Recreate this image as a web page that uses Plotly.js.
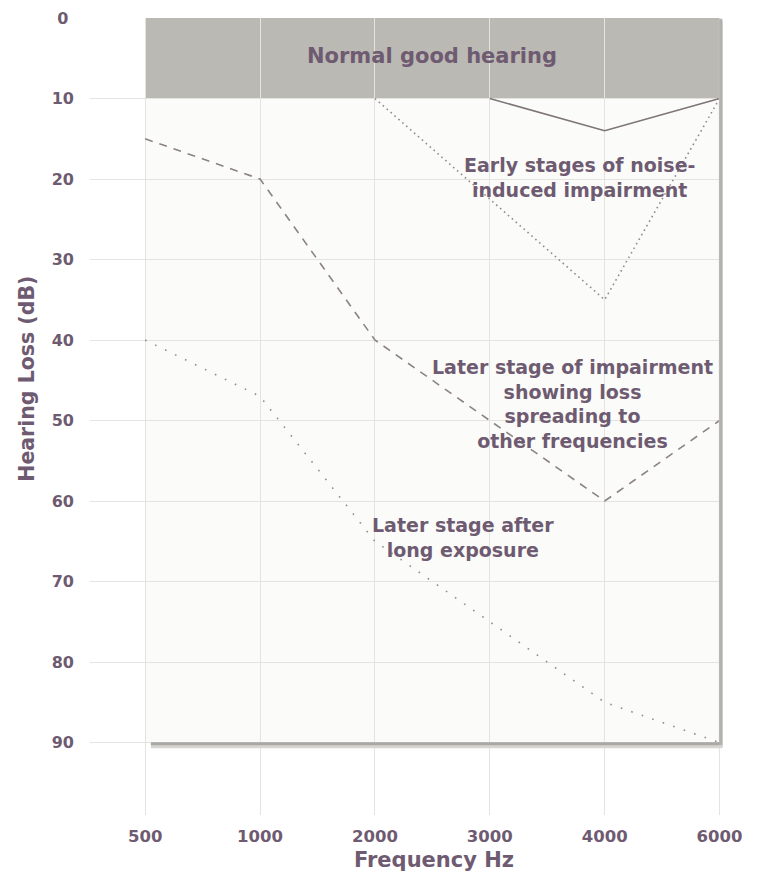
<!DOCTYPE html>
<html>
<head>
<meta charset="utf-8">
<script src="https://cdn.plot.ly/plotly-3.0.1.min.js"></script>
<style>html,body{margin:0;padding:0;background:#fff;}#chart{width:758px;height:879px;}</style>
</head>
<body>
<div id="chart"></div>
<script>
// Data
const frequencies = ['500', '1000', '2000', '3000', '4000', '6000'];
const earlyMild = [null, null, null, 10, 14, 10];        // solid line
const earlyNoise = [null, null, 10, null, 35, 10];       // dotted line
const laterSpreading = [15, 20, 40, 50, 60, 50];         // dashed line
const longExposure = [40, 47, 65, 75, 85, 90];           // fine dotted line
const yTicks = [0, 10, 20, 30, 40, 50, 60, 70, 80, 90];
const yTickLabels = ['0\u00a0', '10', '20', '30', '40', '50', '60', '70', '80', '90'];
const normalBand = [0, 10];
const xTitle = 'Frequency Hz';
const yTitle = 'Hearing Loss (dB)';

const txt = '#6e5b71';
const fontFam = '"DejaVu Sans", "Open Sans", sans-serif';

const traces = [
  {x: frequencies, y: earlyMild, type: 'scatter', mode: 'lines', connectgaps: true,
   line: {color: '#7d7474', width: 1.5}, hoverinfo: 'skip'},
  {x: frequencies, y: earlyNoise, type: 'scatter', mode: 'lines', connectgaps: true,
   line: {color: '#948b8a', width: 1.6, dash: '1.6px,3.6px'}, hoverinfo: 'skip'},
  {x: frequencies, y: laterSpreading, type: 'scatter', mode: 'lines',
   line: {color: '#8c8382', width: 1.6, dash: '8px,7px'}, hoverinfo: 'skip'},
  {x: frequencies, y: longExposure, type: 'scatter', mode: 'lines',
   line: {color: '#958d8c', width: 1.6, dash: '1.6px,9.5px'}, hoverinfo: 'skip'}
];

const last = frequencies.length - 1;
const yMax = yTicks[yTicks.length - 1];
const annFont = {family: fontFam, size: 19, color: txt, weight: 'bold'};
const layout = {
  width: 758, height: 879,
  margin: {l: 90, r: 35, t: 18, b: 64},
  paper_bgcolor: '#ffffff',
  plot_bgcolor: '#ffffff',
  showlegend: false,
  font: {family: fontFam, color: txt},
  xaxis: {
    type: 'category',
    range: [-0.48, last + 0.03],
    showgrid: true, gridcolor: '#e3e4df', gridwidth: 1,
    zeroline: false, showline: false, ticks: '',
    ticklabelstandoff: 9,
    tickfont: {family: fontFam, size: 16.5, color: txt, weight: 'bold'}
  },
  yaxis: {
    range: [99, 0],
    tickvals: yTicks,
    ticktext: yTickLabels,
    showgrid: true, gridcolor: '#e3e4df', gridwidth: 1,
    zeroline: false, showline: false, ticks: '',
    ticklabelstandoff: 15,
    tickfont: {family: fontFam, size: 16, color: txt, weight: 'bold'}
  },
  shapes: [
    {type: 'rect', xref: 'x', yref: 'y', x0: 0, x1: last, y0: 0, y1: yMax,
     fillcolor: '#fbfbf9', line: {width: 0}, layer: 'below'},
    {type: 'rect', xref: 'x', yref: 'y', x0: 0, x1: last, y0: normalBand[0], y1: normalBand[1],
     fillcolor: '#bbb9b3', line: {width: 0}, layer: 'below'},
    {type: 'line', xref: 'x', yref: 'y', x0: 0.05, x1: last + 0.02, y0: yMax + 0.35, y1: yMax + 0.35,
     line: {color: '#d6d5d1', width: 6}, layer: 'above'},
    {type: 'line', xref: 'x', yref: 'y', x0: last + 0.02, x1: last + 0.02, y0: 0.3, y1: yMax + 0.6,
     line: {color: '#d6d5d1', width: 6}, layer: 'above'},
    {type: 'line', xref: 'x', yref: 'y', x0: 0.05, x1: last + 0.01, y0: yMax + 0.15, y1: yMax + 0.15,
     line: {color: '#a9a8a4', width: 3}, layer: 'above'},
    {type: 'line', xref: 'x', yref: 'y', x0: last + 0.01, x1: last + 0.01, y0: 0.1, y1: yMax + 0.3,
     line: {color: '#b2b1ad', width: 3}, layer: 'above'}
  ],
  annotations: [
    {x: 2.5, y: 4.7, xref: 'x', yref: 'y', text: 'Normal good hearing', showarrow: false,
     font: {family: fontFam, size: 21, color: txt, weight: 'bold'}},
    {x: 3.78, y: 19.8, xref: 'x', yref: 'y', text: 'Early stages of noise-<br>induced impairment',
     showarrow: false, align: 'center', font: annFont},
    {x: 3.72, y: 47.9, xref: 'x', yref: 'y',
     text: 'Later stage of impairment<br>showing loss<br>spreading to<br>other frequencies',
     showarrow: false, align: 'center', font: annFont},
    {x: 2.77, y: 64.5, xref: 'x', yref: 'y', text: 'Later stage after<br>long exposure',
     showarrow: false, align: 'center', font: annFont},
    // axis titles
    {x: 2.5, xshift: 2, y: 0, yref: 'paper', xref: 'x', yanchor: 'middle', yshift: -45,
     text: xTitle, showarrow: false,
     font: {family: fontFam, size: 21, color: txt, weight: 'bold'}},
    {x: 0, xref: 'paper', xshift: -62.5, xanchor: 'center', y: yMax / 2, yref: 'y', yshift: 1,
     text: yTitle, textangle: -90, showarrow: false,
     font: {family: fontFam, size: 20.5, color: txt, weight: 'bold'}}
  ]
};

Plotly.newPlot('chart', traces, layout, {displayModeBar: false, staticPlot: true});
</script>
</body>
</html>
